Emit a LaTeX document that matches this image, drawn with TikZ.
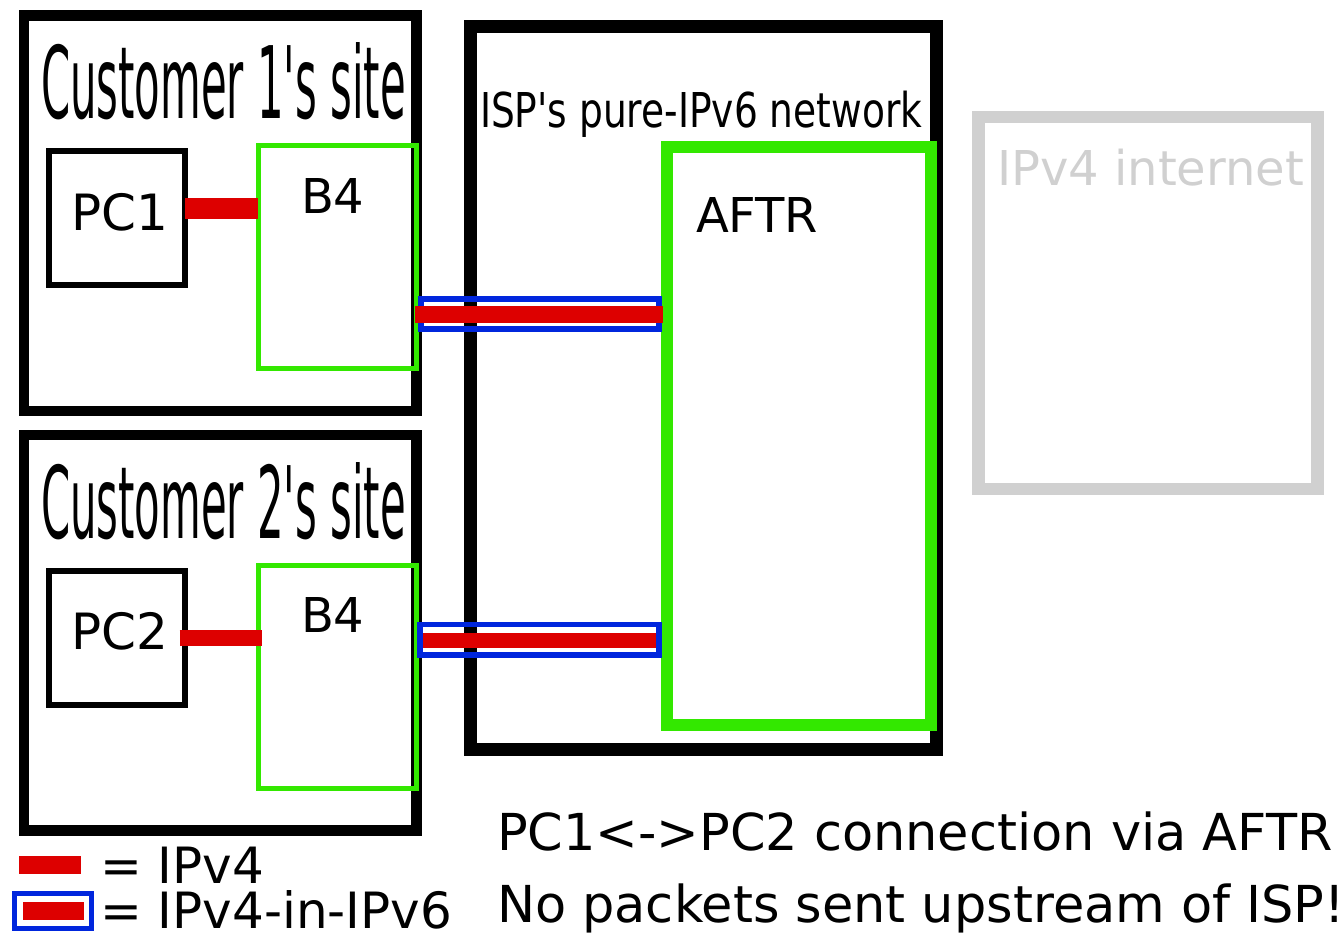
\documentclass[tikz,border=0pt]{standalone}
\usepackage{fontspec}
\setmainfont{DejaVu Sans}[Ligatures=TeXOff]
\usetikzlibrary{fit,calc}
\definecolor{ipred}{HTML}{DD0000}
\definecolor{ipgreen}{HTML}{33E800}
\definecolor{ipblue}{HTML}{0026DD}
\definecolor{ipgray}{HTML}{D0D0D0}
\tikzset{
  box/.style={inner sep=0pt, outer sep=0pt, draw},
  sitebox/.style={box, line width=7.9pt},
  pcbox/.style={box, line width=4.5pt},
  b4box/.style={box, draw=ipgreen, line width=3.75pt},
  ipv4/.style={draw=ipred, line width=#1},
  tunbox/.style={box, draw=ipblue, line width=#1},
  txt/.style={anchor=base west, inner sep=0pt, outer sep=0pt},
  bigtxt/.style={txt, font=\fontsize{37.5}{40}\selectfont},
  notetxt/.style={txt, font=\fontsize{38.2}{40}\selectfont},
  midtxt/.style={txt, font=\fontsize{36}{40}\selectfont},
}
\begin{document}
\begin{tikzpicture}[x=0.75pt,y=-0.75pt]
\useasboundingbox (0,0) rectangle (1344,932);
% sites and networks
\node[sitebox, fit={(23.8,15.3) (416.7,411)}] (site1) {};
\node[sitebox, fit={(23.8,435) (416.7,830.5)}] (site2) {};
\node[box, line width=9.75pt, fit={(470.5,26.5) (936.5,749)}] (isp) {};
\node[box, draw=ipgreen, line width=9pt, fit={(667,146.5) (931,725)}] (aftr) {};
\node[box, draw=ipgray, line width=9.4pt, fit={(978.5,117) (1317.5,489)}] (inet) {};
% devices
\node[pcbox, fit={(49,151) (185,285)}] (pc1) {};
\node[pcbox, fit={(49,571) (185,704.5)}] (pc2) {};
\node[b4box, fit={(258,145.8) (416.5,368)}] (b4a) {};
\node[b4box, fit={(258,565) (416.5,788)}] (b4b) {};
% tunnels
\node[tunbox=4.5pt, fit={(421,298.5) (659,329)}] (tun1) {};
\node[tunbox=4pt, fit={(420,624.5) (659,655)}] (tun2) {};
\draw[ipv4=12.75pt, shorten <=-1pt, shorten >=3pt] (b4a.east |- 0,314.5) -- (aftr.west |- 0,314.5);
\draw[ipv4=11.25pt, shorten <=5pt, shorten >=8pt] (b4b.east |- 0,640.5) -- (aftr.west |- 0,640.5);
% ipv4 links
\draw[ipv4=15.75pt] ($(pc1.east)+(0,-10)$) -- ($(pc1.east -| b4a.west)+(0,-10)$);
\draw[ipv4=12pt, shorten <=-4pt, shorten >=-3pt] (pc2.east) -- (pc2.east -| b4b.west);
% labels
\node[txt, font=\fontsize{75}{80}\selectfont] (site1t) at (41,118) {\scalebox{0.418}[1]{Customer 1's site}};
\node[txt, font=\fontsize{75}{80}\selectfont] (site2t) at (41,538) {\scalebox{0.418}[1]{Customer 2's site}};
\node[midtxt] (ispt) at (480,127) {\scalebox{0.782}[1]{ISP's pure-IPv6 network}};
\node[bigtxt] (pc1t) at (71,230) {PC1};
\node[bigtxt] (pc2t) at (71,649) {PC2};
\node[midtxt] (b4at) at (301,213) {B4};
\node[midtxt] (b4bt) at (301,632) {B4};
\node[midtxt] (aftrt) at (696,232) {AFTR};
\node[midtxt, text=ipgray] (inett) at (997,185) {IPv4 internet};
\node[notetxt] (note1) at (497,850) {PC1<->PC2 connection via AFTR};
\node[notetxt] (note2) at (497,922) {No packets sent upstream of ISP!};
% legend
\node[box, draw=none, fill=ipred, fit={(19,856) (81,874)}] (leg1) {};
\node[tunbox=3.75pt, fit={(14.5,893.5) (91.5,928.5)}] (leg2) {};
\node[box, draw=none, fill=ipred, fit={(23,902) (84,920)}] (leg2r) {};
\node[bigtxt] (leg1t) at (100,883) {= IPv4};
\node[bigtxt] (leg2t) at (100,928) {= IPv4-in-IPv6};
\end{tikzpicture}
\end{document}
